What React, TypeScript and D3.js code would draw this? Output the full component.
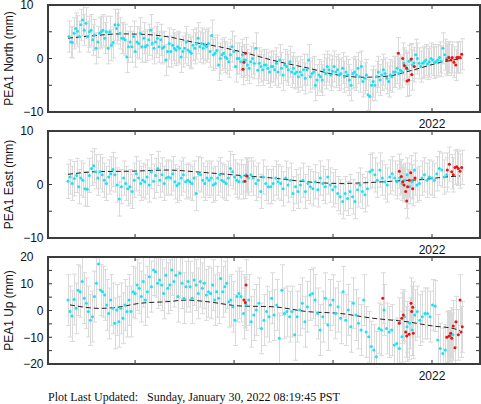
import React from 'react';
import * as d3 from 'd3';

// ---------- axis data ----------
const xDomain: [number, number] = [2018.12, 2022.485];
const yearTicks = [2019, 2020, 2021, 2022];
const yearLabels = ['', '', '', '2022'];
const footerText = 'Plot Last Updated:   Sunday, January 30, 2022 08:19:45 PST';

// ---------- North ----------
const northCyanSpan: [number, number] = [2018.332, 2022.162];
const northCyan = [
  4.1, 3.1, 3.0, 4.7, 5.6, 5.1, 4.1, 6.3, 7.2, 5.3, 6.6, 4.1, 5.0, 5.3, 3.5, 4.4,
  1.9, 3.1, 4.7, 5.0, 5.3, 3.8, 5.0, 1.9, 5.0, 2.5, 3.0, 6.3, 5.6, 6.3, 4.7, 3.8,
  3.8, 3.5, 0.3, 2.2, 3.1, 2.2, 4.1, 1.3, 3.1, 2.8, 4.7, 2.2, 3.8, 2.2, 2.5, 3.5,
  5.3, 2.8, 1.9, 3.1, 3.8, 2.2, 3.5, 1.9, 2.2, -0.3, 1.3, 2.8, 1.3, 2.5, 1.9, 1.6,
  2.2, 1.9, 0.3, 1.3, 1.9, 3.1, 1.6, 1.3, 1.0, 2.5, 1.9, 2.8,
  3.8, 2.2, 2.8, 1.9, 2.5, 2.2, 2.8, 1.3, 4.3, 0.7, 1.0, 1.5, -1.2, 0.0, 0.7, 1.0,
  0.3, 0.0, -0.6, 0.7, 2.2, 1.3, -1.5, 0.0, 0.0, -0.6, 0.7, -0.3, -0.3, -1.2, -1.8, -0.6,
  0.0, -0.9, 1.9, -2.2, -0.9, -1.5, -2.1, -1.2, -1.2, -1.8, -2.5, -1.5, -1.5, -2.1, -0.9, -2.5,
  -0.3, -1.8, -3.1, -1.2, -1.5, -2.1, -0.6, -2.5, -1.8, -2.8, -2.5, -3.4, -2.5, -3.1, -2.1, -3.7,
  -2.1, -0.3, -3.4, -2.8, -2.5, -5.0, -4.0, -3.1, -3.4, -4.0, -2.1, -2.8, -1.5, -2.1, -3.1, -2.4,
  -1.5, -2.5, -2.1, -3.1, -2.8, -1.8, -3.4, -2.5, -3.1, -4.0, -5.0, -2.8, -2.5, -3.1, -1.8, -3.4,
  -1.5, -4.3, -3.7, -3.1, -6.8, -7.1, -5.0, -4.3, -5.0, -3.4, -2.5, -4.0, -3.1, -2.1, -2.8, -3.7,
  -4.3, -3.1, -3.4, -2.5, -2.5, -1.8, -2.8, -2.2, -2.5, -0.9, -1.5, -2.0, -0.5, -0.3, -1.2, -0.8,
  0.7, 0.0, -0.9, -1.5, -0.9, -0.6, -0.3, -1.0, -0.6, 0.0, -0.3, -0.8, -0.6, -0.3, 0.2, -0.5,
  1.9, 0.7, 0.0, 0.3,
];
const northRedT = [2020.090, 2020.100, 2020.116, 2021.660, 2021.704, 2021.720, 2021.744, 2021.748, 2021.765, 2021.791, 2021.795, 2021.821, 2022.149, 2022.172, 2022.192, 2022.205, 2022.222, 2022.240, 2022.250, 2022.266, 2022.283, 2022.300];
const northRedV = [-2.0, -0.7, 1.0, 1.0, 0.0, -1.3, -1.8, -4.2, -4.0, -0.1, -3.0, -1.5, -0.3, 0.2, -0.3, 0.2, -0.7, -1.2, 0.2, 0.2, 0.2, 0.8];
const northModelT = [2018.322, 2018.55, 2018.85, 2019.1, 2019.35, 2019.6, 2019.85, 2020.06, 2020.45, 2020.75, 2021.02, 2021.3, 2021.55, 2021.8, 2022.05, 2022.3];
const northModelV = [3.8, 4.2, 4.6, 4.5, 4.0, 3.0, 2.2, 1.3, -0.6, -1.8, -3.0, -3.5, -3.3, -2.2, -0.9, 0.0];

// ---------- East ----------
const eastCyanEarlySpan: [number, number] = [2018.322, 2020.05];
const eastCyanEarly = [
  0.6, 1.4, 0.2, 1.1, 1.7, -0.4, 1.2, 0.8, -0.8, -0.9, 1.7, 3.0, 3.5, 2.4, 1.2,
  2.4, 1.8, 0.8, 0.2, 1.4, 2.0, 2.8, 1.8, -0.1, -2.7, -0.4, 1.2,
  0.2, -0.8, -0.4, -1.3, 0.8, 2.0, 1.2, 0.2, 0.8, 0.5, 1.4, -0.1, 2.4, 0.6, 1.7,
  3.0, 0.8, 1.8, 0.2, 1.2, 1.4, 1.2, 2.0, 0.5, -0.2,
  0.2, 1.2, 1.8, 0.5, 0.8, 0.5, 0.2, 1.2, -1.7, 2.0, 1.8, 0.8, 0.2, 1.2, 0.8, 1.2,
  -0.1, 0.2, 1.2, 1.8, 0.8, 0.5, 0.2, 1.2, 3.0, 2.4, 1.4, 0.8, 0.5,
];
const eastCyanLateSpan: [number, number] = [2020.07, 2022.149];
const eastCyanLate = [
  1.4, 0.5, 1.8, 1.2, 1.8, 1.2, 0.2, 0.8, -1.3, 1.4, 0.2, -0.4, -0.4, 0.2, 1.2, 0.5,
  0.2, -0.8, 1.2, -0.1, 0.8, -1.7, -0.4, -1.3, -0.1, 0.8, -1.3, 0.2, -0.4, -0.8, 0.5, -1.0,
  1.2, 0.2, -0.4, 1.4, -0.1, -1.0, -0.4, -1.7, -2.3, -3.2, -1.7, -2.6, -1.3, -2.3, -3.2, -1.0,
  -0.1, -1.3, -1.9, -0.8, 2.4, 2.7, 1.8, 0.8, 2.7, 1.2, 0.5, -0.1, 1.4, 2.0, 1.2, 0.5,
  1.2, 0.2, 0.8, 1.8, -0.4, 0.5, 2.7, -0.1, 0.2, 1.2, 1.8, 0.8, 1.4, 1.2, 0.8, 2.0,
  3.0, 2.7, 1.4, 1.8,
];
const eastRedT = [2020.110, 2020.128, 2021.670, 2021.690, 2021.704, 2021.717, 2021.734, 2021.744, 2021.754, 2021.771, 2021.785, 2021.805, 2021.828, 2022.155, 2022.175, 2022.199, 2022.215, 2022.232, 2022.250, 2022.266, 2022.283, 2022.300];
const eastRedV = [0.6, 1.6, 2.5, 1.5, 0.5, -0.1, -1.3, -3.1, -0.4, 0.8, 2.2, -0.8, 1.2, 2.7, 3.8, 2.4, 1.8, 3.2, 3.3, 3.0, 2.5, 3.2];
const eastModelT = [2018.322, 2018.615, 2018.979, 2019.322, 2019.656, 2020.06, 2020.393, 2020.737, 2021.07, 2021.404, 2021.677, 2021.949, 2022.081, 2022.283];
const eastModelV = [1.9, 2.4, 2.5, 2.7, 2.3, 1.7, 1.2, 0.5, 0.2, 0.4, 0.7, 1.0, 1.3, 1.6];

// ---------- Up ----------
const upCyanEarlySpan: [number, number] = [2018.322, 2020.05];
const upCyanEarly = [
  3.9, -0.4, -2.1, 4.1, 0.8, 7.6, 7.0, 10.8, 4.6, 2.7, -0.4, -3.6, -2.3, 5.2, 10.2,
  17.4, 7.6, 7.0, 5.8, 2.1, -1.1, 3.9, 0.8, -4.8, 0.2, -4.2, 0.8, -2.9, 2.1, -0.4,
  3.9, -0.4, 7.0, 6.4, 9.5, 8.3, 5.2, 10.8, 3.9, 7.0, 12.6, 8.9, 15.1, 14.5, 10.2,
  11.4, 9.5, 6.4, 13.2, 8.3, 9.5, 15.1, 10.8, 13.2, 5.2, 13.9, 10.2, 4.6, 8.9, 10.8,
  8.9, 4.6, 11.4, 9.5, 6.4, 10.8, 8.3, 10.2, 5.8, 7.0, 6.4, 9.5, 3.9, 7.0, 4.6,
  12.0, 7.0, 8.9, 10.2, 3.3, 3.9, 1.4, -3.6, 5.2, 6.4,
];
const upCyanLateSpan: [number, number] = [2020.07, 2022.212];
const upCyanLate = [
  5.2, -1.1, 2.1, 3.9, -4.2, -1.7, 0.2, 2.7, -6.7, -3.6, -0.4, -2.3, 4.6, -1.7, 2.1, -10.4,
  7.6, -1.1, -0.4, -2.3, -0.4, -9.1, -2.3, 0.2, 2.7, -4.2, 1.4, 5.8, 6.4, 3.9, -1.1, -7.3,
  -2.3, 4.6, -5.4, 2.1, 3.9, -1.1, 1.4, -2.9, 7.0, -3.6, 0.2, -6.1, 2.7, -1.7, -4.8, -7.3,
  3.9, -8.0, -9.8, -13.5, -14.8, -17.3, -6.7, -7.3, 0.2, -6.7, -8.0, -7.3, -12.9, -12.3, -14.2, -9.8,
  -2.3, -6.1, -4.8, -7.3, -1.7, -0.4, -3.6, -2.3, -1.1, -1.1, -2.3, 2.1, 1.7, -11.0, -14.2, -16.1,
  -14.8, -9.8, -9.5, -9.1,
];
const upRedT = [2020.100, 2020.114, 2020.121, 2021.502, 2021.670, 2021.694, 2021.710, 2021.734, 2021.744, 2021.768, 2021.788, 2021.795, 2021.805, 2021.811, 2022.149, 2022.175, 2022.189, 2022.199, 2022.215, 2022.232, 2022.242, 2022.266, 2022.283, 2022.293, 2022.306];
const upRedV = [3.9, 3.0, 9.5, 4.6, -4.8, -2.9, -1.7, -8.0, -9.5, -8.9, 2.7, -0.4, 1.2, -8.5, -10.0, -9.5, -8.5, -10.4, -5.8, -13.9, -4.2, -9.1, 3.9, -8.0, -6.1];
const upModelT = [2018.342, 2018.645, 2018.817, 2019.05, 2019.322, 2019.524, 2019.727, 2020.06, 2020.393, 2020.737, 2021.07, 2021.404, 2021.747, 2022.01, 2022.212, 2022.283];
const upModelV = [2.1, 0.8, 1.2, 2.7, 3.3, 3.9, 3.3, 1.7, 1.4, -0.4, -1.1, -2.9, -4.2, -5.8, -6.7, -7.5];

// ---------- layout ----------
const W = 481;
const H = 404;
const LEFT = 48;
const RIGHT = 480;
const PANEL_H = 107;
const SANS = '"Liberation Sans", Arial, Helvetica, sans-serif';
const SERIF = '"Liberation Serif", "Times New Roman", serif';

type Pt = { t: number; v: number };

function spread(span: [number, number], values: number[]): Pt[] {
  const n = values.length;
  return values.map((v, i) => ({ t: span[0] + (i * (span[1] - span[0])) / (n - 1), v }));
}
function pairs(ts: number[], vs: number[]): Pt[] {
  return ts.map((t, i) => ({ t, v: vs[i] }));
}

const x = d3.scaleLinear().domain(xDomain).range([LEFT, RIGHT]);

interface PanelProps {
  id: string;
  top: number;
  yDomain: [number, number];
  major: number[];
  minor: number[];
  label: string;
  cyan: Pt[];
  red: Pt[];
  model: Pt[];
  sigma: number;
}

function Panel({ id, top, yDomain, major, minor, label, cyan, red, model, sigma }: PanelProps) {
  const bottom = top + PANEL_H;
  const y = d3.scaleLinear().domain(yDomain).range([bottom, top]);
  const line = d3
    .line<Pt>()
    .x((d) => x(d.t))
    .y((d) => y(d.v))
    .curve(d3.curveMonotoneX);
  const all = [...cyan, ...red];
  const cap = 2.5;
  const tick = 4;
  return (
    <g>
      <defs>
        <clipPath id={id}>
          <rect x={LEFT} y={top} width={RIGHT - LEFT} height={PANEL_H} />
        </clipPath>
      </defs>
      <g clipPath={`url(#${id})`}>
        <g stroke="#dadada" strokeWidth={1} fill="none">
          {all.map((d, i) => {
            const cx = Math.round(x(d.t)) + 0.5;
            const y0 = y(d.v - sigma);
            const y1 = y(d.v + sigma);
            return (
              <g key={i}>
                <line x1={cx} x2={cx} y1={y0} y2={y1} />
                <line x1={cx - cap} x2={cx + cap} y1={y0} y2={y0} />
                <line x1={cx - cap} x2={cx + cap} y1={y1} y2={y1} />
              </g>
            );
          })}
        </g>
        <path d={line(model) || ''} fill="none" stroke="#222" strokeWidth={1} strokeDasharray="5,3" />
        {cyan.map((d, i) => (
          <circle key={'c' + i} cx={x(d.t)} cy={y(d.v)} r={1.5} fill="#14e4f5" />
        ))}
        {red.map((d, i) => (
          <circle key={'r' + i} cx={x(d.t)} cy={y(d.v)} r={1.5} fill="#f01010" />
        ))}
      </g>
      {/* ticks */}
      <g stroke="#333" strokeWidth={1}>
        {[...major, ...minor].map((v, i) => (
          <g key={'yt' + i}>
            <line x1={LEFT} x2={LEFT + tick} y1={y(v)} y2={y(v)} />
            <line x1={RIGHT - tick} x2={RIGHT} y1={y(v)} y2={y(v)} />
          </g>
        ))}
        {yearTicks.map((t, i) => (
          <g key={'xt' + i}>
            <line x1={x(t)} x2={x(t)} y1={top} y2={top + tick} />
            <line x1={x(t)} x2={x(t)} y1={bottom - tick} y2={bottom} />
          </g>
        ))}
      </g>
      <rect x={LEFT} y={top} width={RIGHT - LEFT} height={PANEL_H} fill="none" stroke="#3c3c3c" strokeWidth={2} />
      {major.map((v, i) => (
        <text
          key={'yl' + i}
          x={v > 0 ? 33.5 : 43.5}
          y={y(v)}
          dy="0.36em"
          textAnchor="end"
          fontFamily={SANS}
          fontSize={12}
          fill="#111"
        >
          {v < 0 ? '\u2212' + Math.abs(v) : String(v)}
        </text>
      ))}
      {yearTicks.map((t, i) =>
        yearLabels[i] ? (
          <text key={'xl' + i} x={x(t)} y={bottom + 15.5} textAnchor="middle" fontFamily={SANS} fontSize={12} fill="#111">
            {yearLabels[i]}
          </text>
        ) : null
      )}
      <text
        transform={`translate(12.5, ${top + PANEL_H / 2}) rotate(-90)`}
        textAnchor="middle"
        fontFamily={SANS}
        fontSize={12}
        fill="#111"
      >
        {label}
      </text>
    </g>
  );
}

export default function App() {
  const north = spread(northCyanSpan, northCyan);
  const east = [...spread(eastCyanEarlySpan, eastCyanEarly), ...spread(eastCyanLateSpan, eastCyanLate)];
  const up = [...spread(upCyanEarlySpan, upCyanEarly), ...spread(upCyanLateSpan, upCyanLate)];
  return (
    <svg
      width={W}
      height={H}
      viewBox={`0 0 ${W} ${H}`}
      style={{ position: 'absolute', left: 0, top: 0, background: '#fff' }}
    >
      <rect x={0} y={0} width={W} height={H} fill="#fff" />
      <Panel
        id="clipN"
        top={5}
        yDomain={[-10, 10]}
        major={[-10, 0, 10]}
        minor={[-5, 5]}
        label="PEA1 North (mm)"
        cyan={north}
        red={pairs(northRedT, northRedV)}
        model={pairs(northModelT, northModelV)}
        sigma={2.9}
      />
      <Panel
        id="clipE"
        top={131}
        yDomain={[-10, 10]}
        major={[-10, 0, 10]}
        minor={[-5, 5]}
        label="PEA1 East (mm)"
        cyan={east}
        red={pairs(eastRedT, eastRedV)}
        model={pairs(eastModelT, eastModelV)}
        sigma={3.2}
      />
      <Panel
        id="clipU"
        top={257}
        yDomain={[-20, 20]}
        major={[-20, -10, 0, 10, 20]}
        minor={[-15, -5, 5, 15]}
        label="PEA1 Up (mm)"
        cyan={up}
        red={pairs(upRedT, upRedV)}
        model={pairs(upModelT, upModelV)}
        sigma={9.5}
      />
      <text x={48} y={401} fontFamily={SERIF} fontSize={12} fill="#111" style={{ whiteSpace: 'pre' }}>
        {footerText}
      </text>
    </svg>
  );
}
